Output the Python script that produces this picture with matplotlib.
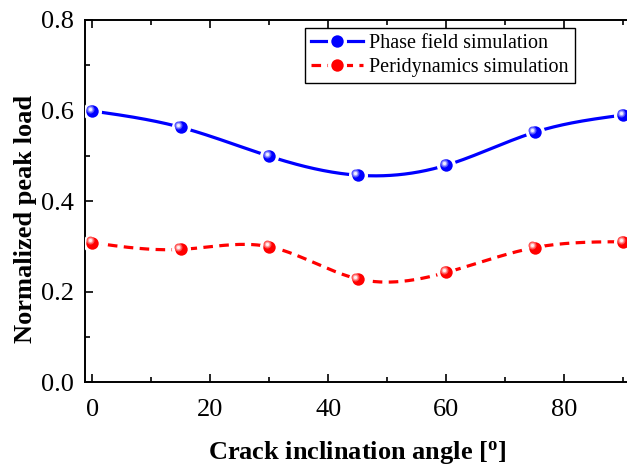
import numpy as np
import matplotlib
matplotlib.use('Agg')
import matplotlib.pyplot as plt
from matplotlib.lines import Line2D
from matplotlib.legend_handler import HandlerTuple
from matplotlib.ticker import MultipleLocator
import matplotlib.transforms as mtransforms

plt.rcParams['font.family'] = ['Liberation Serif', 'DejaVu Serif']

angles = [0, 15, 30, 45, 60, 75, 90]
phase_field = [0.599, 0.563, 0.499, 0.457, 0.479, 0.552, 0.590]
peridynamics = [0.308, 0.293, 0.299, 0.228, 0.242, 0.297, 0.310]


def natural_spline(x, y, n=300):
    # natural cubic spline, used only to draw the smooth connecting line
    x = np.asarray(x, float)
    y = np.asarray(y, float)
    h = np.diff(x)
    m = len(x)
    A = np.zeros((m, m))
    b = np.zeros(m)
    A[0, 0] = A[-1, -1] = 1
    for i in range(1, m - 1):
        A[i, i - 1] = h[i - 1]
        A[i, i] = 2 * (h[i - 1] + h[i])
        A[i, i + 1] = h[i]
        b[i] = 3 * ((y[i + 1] - y[i]) / h[i] - (y[i] - y[i - 1]) / h[i - 1])
    c = np.linalg.solve(A, b)
    xs = np.linspace(x[0], x[-1], n)
    idx = np.clip(np.searchsorted(x, xs) - 1, 0, m - 2)
    dx = xs - x[idx]
    bb = (y[1:] - y[:-1]) / h - h * (2 * c[:-1] + c[1:]) / 3
    dd = (c[1:] - c[:-1]) / (3 * h)
    ys = y[idx] + bb[idx] * dx + c[idx] * dx ** 2 + dd[idx] * dx ** 3
    return xs, ys


fig = plt.figure(figsize=(6.27, 4.69), dpi=100)
ax = fig.add_axes([85 / 627, 87 / 469, 550 / 627, 362 / 469])

MS = 10.5


def sphere(ax, x, y, base, dark, light):
    # shaded ball marker: white gap ring, dark rim, base ball, highlight
    ax.plot(x, y, 'o', ms=MS, mfc=dark, mec='white', mew=3.2, zorder=3)
    ax.plot(x, y, 'o', ms=MS * 0.85, mfc=base, mec='none', zorder=4)
    b = np.array(matplotlib.colors.to_rgb(base))
    w = np.array(matplotlib.colors.to_rgb(light))
    for k, frac in enumerate([0.55, 0.38, 0.22]):
        off = mtransforms.offset_copy(ax.transData, fig=fig, x=-1.6,
                                      y=1.6, units='points')
        t = (k + 1) / 3
        ax.plot(x, y, 'o', ms=MS * frac, mfc=b * (1 - t) + w * t,
                mec='none', transform=off, zorder=5 + k)


xs, ys = natural_spline(angles, phase_field)
ax.plot(xs, ys, color='#0000ff', lw=2.3, zorder=2)
sphere(ax, angles, phase_field, '#0000ff', '#0000b0', '#f0f0ff')

xs, ys = natural_spline(angles, peridynamics)
ax.plot(xs, ys, color='#ff0000', lw=2.3, ls=(0, (3, 2)), zorder=2)
sphere(ax, angles, peridynamics, '#ff0000', '#c00000', '#fff0f0')

ax.set_xlim(-1.2, 92)
ax.set_ylim(0, 0.8)
ax.xaxis.set_major_locator(MultipleLocator(20))
ax.xaxis.set_minor_locator(MultipleLocator(10))
ax.yaxis.set_major_locator(MultipleLocator(0.2))
ax.yaxis.set_minor_locator(MultipleLocator(0.1))
ax.yaxis.set_major_formatter(matplotlib.ticker.FormatStrFormatter('%.1f'))
ax.tick_params(which='both', direction='in', top=True, right=True,
               labelsize=19, width=1.2)
ax.tick_params(which='major', length=6)
ax.tick_params(axis='y', pad=8)
ax.tick_params(axis='x', pad=12)
ax.tick_params(which='minor', length=3.5)
for s in ax.spines.values():
    s.set_linewidth(1.4)

ax.set_xlabel('Crack inclination angle [$\\mathregular{^o}$]', fontsize=19,
              fontweight='bold')
ax.set_ylabel('Normalized peak load', fontsize=19, fontweight='bold')
ax.xaxis.set_label_coords(0.495, -0.158)
ax.yaxis.set_label_coords(-0.088, 0.45)


def legend_handle(color, ls, base, dark):
    line = Line2D([], [], color=color, lw=2.3, ls=ls)
    gap = Line2D([], [], marker='o', ls='none', ms=MS, mfc=dark,
                 mec='white', mew=3.2)
    ball = Line2D([], [], marker='o', ls='none', ms=MS * 0.85, mfc=base,
                  mec='none')
    return (line, gap, ball)


h1 = legend_handle('#0000ff', '-', '#0000ff', '#0000b0')
h2 = legend_handle('#ff0000', (0, (3, 2)), '#ff0000', '#c00000')
leg = ax.legend([h1, h2], ['Phase field simulation', 'Peridynamics simulation'],
                handler_map={tuple: HandlerTuple(ndivide=1, pad=0)},
                loc='upper left', bbox_to_anchor=(0.4, 0.977), fontsize=14.5,
                fancybox=False, edgecolor='black', framealpha=1,
                handlelength=2.6, handletextpad=0.3, borderpad=0.3,
                labelspacing=0.2, borderaxespad=0)
leg.get_frame().set_linewidth(1.0)

fig.savefig('out.png', dpi=100)
